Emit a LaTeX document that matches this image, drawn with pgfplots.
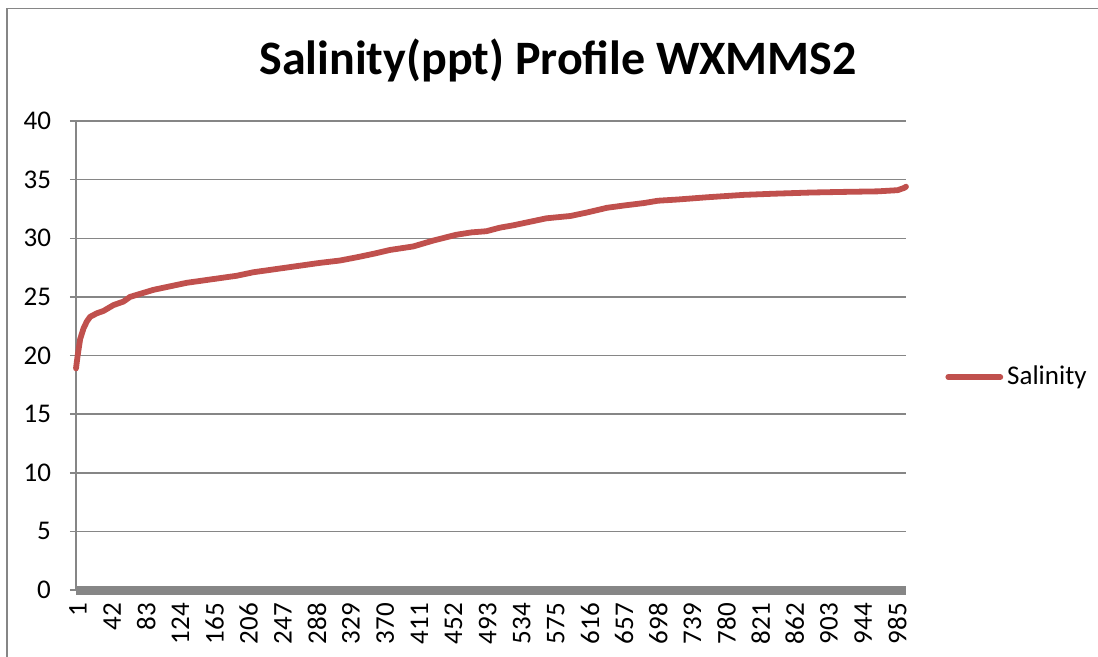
\documentclass[border=0pt]{standalone}
\usepackage{fontspec}
\setmainfont{Carlito}
\usepackage{pgfplots}
\pgfplotsset{compat=1.18}
\definecolor{sal}{HTML}{C0504D}
\definecolor{gridc}{HTML}{868686}
\pgfplotstableread{
cat val
1 18.9
3 20.0
6 21.4
10 22.3
14 22.9
18 23.3
26 23.6
34 23.8
46 24.3
58 24.6
66 25.0
80 25.3
94 25.6
114 25.9
134 26.2
154 26.4
174 26.6
194 26.8
214 27.1
234 27.3
254 27.5
274 27.7
294 27.9
318 28.1
340 28.4
360 28.7
378 29.0
406 29.3
430 29.8
458 30.3
476 30.5
494 30.6
510 30.9
526 31.1
546 31.4
566 31.7
595 31.9
615 32.2
639 32.6
660 32.8
683 33.0
700 33.2
723 33.3
760 33.5
803 33.7
840 33.8
884 33.9
920 33.95
964 34.0
988 34.1
996 34.3
998 34.4
}\saldata
\begin{document}
\begin{tikzpicture}
\useasboundingbox (0,0) rectangle (549pt,-328.5pt);
\draw[gridc, line width=0.9pt] (3.5pt,-328.5pt) -- (3.5pt,-4.25pt) -- (549pt,-4.25pt);
\node[font=\bfseries\fontsize{24}{28}\selectfont, anchor=base] at (279pt,-37.5pt) {Salinity(ppt) Profile WXMMS2};
\begin{axis}[
  at={(38pt,-295pt)}, anchor=south west,
  scale only axis, width=415pt, height=234.5pt,
  xmin=1, xmax=998, ymin=0, ymax=40,
  ytick={0,5,...,40},
  xtick={1,42,83,124,165,206,247,288,329,370,411,452,493,534,575,616,657,698,739,780,821,862,903,944,985},
  axis lines*=left,
  x axis line style={gridc, line width=4.5pt, -},
  y axis line style={gridc, line width=0.75pt, -},
  ymajorgrids,
  major grid style={gridc, line width=0.75pt},
  tick align=outside,
  major tick length=3pt,
  xtick style={draw=none},
  ytick style={gridc, line width=0.75pt},
  /pgf/number format/assume math mode=true,
  tick label style={font=\fontsize{13.5}{16}\selectfont},
  xticklabel style={rotate=90, anchor=east, yshift=-1pt},
  yticklabel style={anchor=east, xshift=-6pt},
  clip=false,
  legend style={at={(1.047,0.454)}, anchor=west, draw=none, fill=none, font=\fontsize{13.5}{16}\selectfont, inner sep=0pt},
  legend image code/.code={\draw[sal, line width=2.9pt, line cap=round] (0pt,0pt) -- (26pt,0pt);},
]
\addplot[sal, line width=2.9pt, line join=round, line cap=round] table[x=cat, y=val] {\saldata};
\addlegendentry{Salinity}
\end{axis}
\end{tikzpicture}
\end{document}
